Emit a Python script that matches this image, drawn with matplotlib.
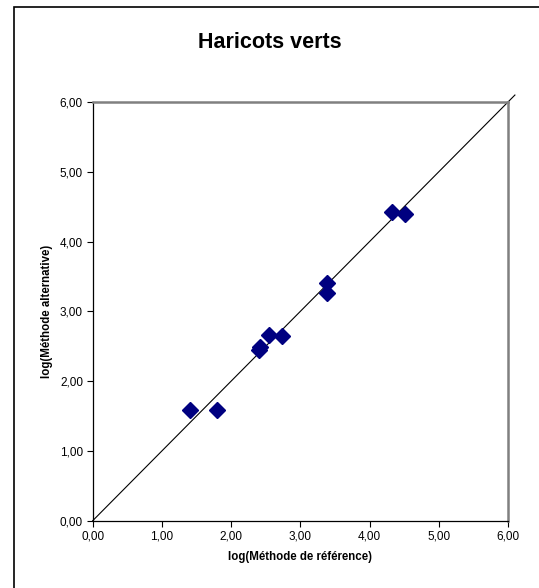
import matplotlib.pyplot as plt
from matplotlib.patches import Rectangle

plt.rcParams['font.family'] = ['Liberation Sans', 'DejaVu Sans']

# log counts: reference method vs alternative method
ref_log = [1.40, 1.80, 2.40, 2.42, 2.55, 2.73, 3.39, 3.39, 4.32, 4.51]
alt_log = [1.59, 1.59, 2.44, 2.49, 2.66, 2.65, 3.40, 3.27, 4.43, 4.40]

ticks = [0, 1, 2, 3, 4, 5, 6]
tick_labels = ['0,00', '1,00', '2,00', '3,00', '4,00', '5,00', '6,00']

fig = plt.figure(figsize=(5.39, 5.88), dpi=100)

# chart border
fig.patches.append(Rectangle((13.5 / 539, -0.1), 1.2, 1 - 6.5 / 588 + 0.1,
                             transform=fig.transFigure, fill=False,
                             edgecolor='black', linewidth=1.2))

ax = fig.add_axes([92.7 / 539, 1 - 520.7 / 588, (508 - 92.7) / 539, (520.7 - 102) / 588])

# y = x reference line
ax.plot([0, 6.1], [0, 6.1], color='black', linewidth=0.8, clip_on=False, zorder=2)
ax.plot(ref_log, alt_log, linestyle='none', marker='D', markersize=8.3,
        color='#000080', zorder=3)

ax.set_xlim(0, 6)
ax.set_ylim(0, 6)
ax.set_xticks(ticks)
ax.set_xticklabels(tick_labels, fontsize=8.5)
ax.set_yticks(ticks)
ax.set_yticklabels(tick_labels, fontsize=8.5)
ax.tick_params(direction='out', length=4, width=0.8, pad=3)

for side in ['top', 'right']:
    ax.spines[side].set_color('#808080')
    ax.spines[side].set_linewidth(1.8)
for side in ['left', 'bottom']:
    ax.spines[side].set_color('black')
    ax.spines[side].set_linewidth(0.9)

ax.set_xlabel('log(Méthode de référence)', fontsize=8.3, fontweight='bold', labelpad=6)
ax.set_ylabel('log(Méthode alternative)', fontsize=8.3, fontweight='bold', labelpad=5)

fig.text(269.5 / 539, 1 - 43 / 588, 'Haricots verts', fontsize=15.5,
         fontweight='bold', ha='center', va='center')

fig.savefig('out.png', dpi=100)
